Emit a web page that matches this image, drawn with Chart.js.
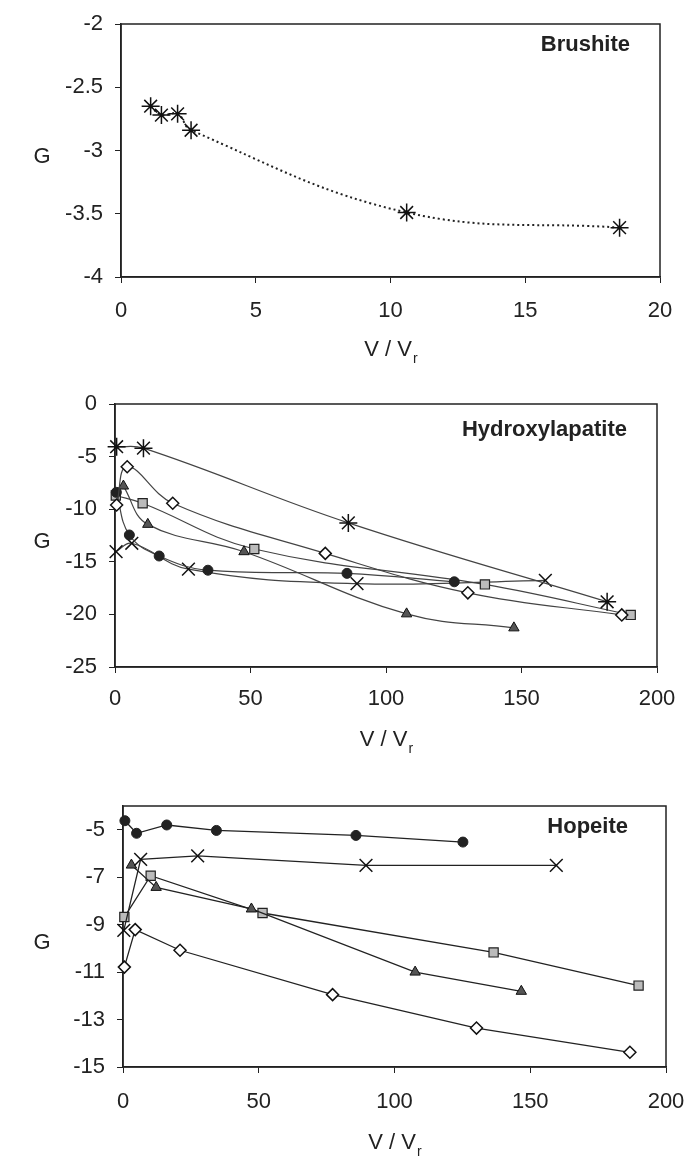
<!DOCTYPE html>
<html>
<head>
<meta charset="utf-8">
<script src="https://cdn.jsdelivr.net/npm/chart.js@4"></script>
<style>
  body { margin: 0; background: #fff; width: 687px; height: 1156px; position: relative; overflow: hidden; }
  canvas { position: absolute; left: 0; }
</style>
</head>
<body>
<canvas id="brushite" width="687" height="380" style="top:0"></canvas>
<canvas id="hap" width="687" height="380" style="top:380px"></canvas>
<canvas id="hopeite" width="687" height="396" style="top:760px"></canvas>

<script>
// ---- Brushite ----
const brushiteX = [1.1, 1.5, 2.1, 2.6, 10.6, 18.5];
const brushiteY = [-2.65, -2.72, -2.71, -2.84, -3.49, -3.61];
const brushiteXTicks = [0, 5, 10, 15, 20];
const brushiteYTicks = [-4, -3.5, -3, -2.5, -2];

// ---- Hydroxylapatite ----
const hapStarX = [0.6, 10.5, 86.1, 181.6];
const hapStarY = [-4.06, -4.2, -11.3, -18.8];
const hapDiamondX = [0.6, 4.5, 21.3, 77.6, 130.2, 187];
const hapDiamondY = [-9.6, -5.96, -9.44, -14.2, -17.95, -20.05];
const hapCircleX = [0.5, 5.3, 16.3, 34.3, 85.6, 125.2];
const hapCircleY = [-8.4, -12.45, -14.45, -15.8, -16.1, -16.9];
const hapTriangleX = [3.1, 12.1, 47.6, 107.6, 147.2];
const hapTriangleY = [-7.8, -11.44, -14.04, -19.95, -21.28];
const hapSquareX = [0.3, 10.2, 51.4, 136.5, 190.3];
const hapSquareY = [-8.7, -9.44, -13.78, -17.15, -20.05];
const hapCrossX = [0.4, 6.2, 27.1, 89.3, 158.8];
const hapCrossY = [-14.04, -13.24, -15.7, -17.08, -16.76];
const hapXTicks = [0, 50, 100, 150, 200];
const hapYTicks = [-25, -20, -15, -10, -5, 0];

// ---- Hopeite ----
const hopCircleX = [0.7, 5.0, 16.1, 34.4, 85.8, 125.2];
const hopCircleY = [-4.62, -5.15, -4.8, -5.03, -5.24, -5.52];
const hopCrossX = [0.3, 6.5, 27.5, 89.5, 159.6];
const hopCrossY = [-9.24, -6.25, -6.1, -6.5, -6.5];
const hopTriangleX = [3.1, 12.2, 47.3, 107.6, 146.7];
const hopTriangleY = [-6.49, -7.43, -8.34, -11.0, -11.81];
const hopSquareX = [0.5, 10.2, 51.4, 136.5, 189.9];
const hopSquareY = [-8.68, -6.94, -8.51, -10.17, -11.57];
const hopDiamondX = [0.5, 4.5, 21.0, 77.2, 130.2, 186.7];
const hopDiamondY = [-10.79, -9.21, -10.08, -11.95, -13.36, -14.38];
const hopXTicks = [0, 50, 100, 150, 200];
const hopYTicks = [-15, -13, -11, -9, -7, -5];

const FONT = '"Liberation Sans", Arial, sans-serif';

function pts(xs, ys) {
  return xs.map((x, i) => ({ x: x, y: ys[i] }));
}

// marker looks
const markers = {
  star:     { pointStyle: 'star',     radius: 9,   bg: '#111', border: '#111', bw: 1.5 },
  diamond:  { pointStyle: 'rectRot',  radius: 6,   bg: '#fff', border: '#111', bw: 1.5 },
  circle:   { pointStyle: 'circle',   radius: 5,   bg: '#222', border: '#222', bw: 1 },
  triangle: { pointStyle: 'triangle', radius: 6,   bg: '#555', border: '#111', bw: 1 },
  square:   { pointStyle: 'rect',     radius: 6.5, bg: '#bbb', border: '#222', bw: 1.2 },
  cross:    { pointStyle: 'crossRot', radius: 9,   bg: '#111', border: '#111', bw: 1.5 }
};

function series(xs, ys, kind, line) {
  const m = markers[kind];
  return Object.assign({
    data: pts(xs, ys),
    showLine: true,
    fill: false,
    clip: false,
    pointStyle: m.pointStyle,
    pointRadius: m.radius,
    pointHoverRadius: m.radius,
    pointBackgroundColor: m.bg,
    pointBorderColor: m.border,
    pointBorderWidth: m.bw
  }, line);
}

// box around plot, panel name, upright y label and x title with subscript
const panelDeco = {
  id: 'panelDeco',
  beforeDatasetsDraw(chart, args, o) {
    const { ctx, chartArea: a } = chart;
    ctx.save();
    ctx.strokeStyle = '#222';
    ctx.lineWidth = 1.5;
    ctx.strokeRect(a.left, a.top, a.right - a.left, a.bottom - a.top);
    ctx.restore();
  },
  afterDraw(chart, args, o) {
    const { ctx, chartArea: a } = chart;
    ctx.save();
    ctx.fillStyle = '#222';
    ctx.textBaseline = 'middle';
    ctx.font = 'bold 22px ' + FONT;
    ctx.textAlign = 'right';
    ctx.fillText(o.name, a.right - o.nameRight, a.top + o.nameTop);

    ctx.font = '22px ' + FONT;
    ctx.textAlign = 'center';
    ctx.fillText('G', o.yLabelX, (a.top + a.bottom) / 2 + 6);

    // V / Vr
    const main = 'V / V';
    ctx.font = '22px ' + FONT;
    const w1 = ctx.measureText(main).width;
    ctx.font = '14px ' + FONT;
    const w2 = ctx.measureText('r').width;
    const cx = (a.left + a.right) / 2;
    const x0 = cx - (w1 + w2) / 2;
    ctx.textAlign = 'left';
    ctx.font = '22px ' + FONT;
    ctx.fillText(main, x0, o.titleY);
    ctx.font = '14px ' + FONT;
    ctx.fillText('r', x0 + w1 + 1, o.titleY + 9);
    ctx.restore();
  }
};

function makePanel(id, cfg) {
  const H = cfg.height;
  return new Chart(document.getElementById(id), {
    type: 'scatter',
    data: { datasets: cfg.datasets },
    options: {
      responsive: false,
      animation: false,
      events: [],
      layout: { padding: { top: cfg.top, right: 687 - cfg.right, bottom: 0, left: 0 } },
      plugins: {
        legend: { display: false },
        tooltip: { enabled: false },
        panelDeco: { name: cfg.name, nameRight: cfg.nameRight, nameTop: cfg.nameTop, yLabelX: 42, titleY: cfg.titleY }
      },
      scales: {
        x: {
          type: 'linear',
          min: cfg.xTicks[0],
          max: cfg.xTicks[cfg.xTicks.length - 1],
          afterBuildTicks: s => { s.ticks = cfg.xTicks.map(v => ({ value: v })); },
          afterFit: s => { s.height = H - cfg.bottom; s.paddingLeft = 0; s.paddingRight = 0; },
          border: { display: true, color: '#222', width: 1.5 },
          grid: { drawOnChartArea: false, drawTicks: true, tickLength: 6, color: '#222' },
          ticks: { color: '#222', font: { family: FONT, size: 22 }, padding: cfg.xPad, maxRotation: 0, callback: v => String(v) }
        },
        y: {
          type: 'linear',
          min: cfg.yTicks[0],
          max: cfg.yMax,
          afterBuildTicks: s => { s.ticks = cfg.yTicks.map(v => ({ value: v })); },
          afterFit: s => { s.width = cfg.left; s.paddingTop = 0; s.paddingBottom = 0; },
          border: { display: true, color: '#222', width: 1.5 },
          grid: { drawOnChartArea: false, drawTicks: true, tickLength: 6, color: '#222' },
          ticks: { color: '#222', font: { family: FONT, size: 22 }, padding: 12, callback: v => String(v) }
        }
      }
    },
    plugins: [panelDeco]
  });
}

// smoothed dotted line for brushite
makePanel('brushite', {
  height: 380, left: 121, right: 660, top: 24, bottom: 277,
  xTicks: brushiteXTicks, yTicks: brushiteYTicks, yMax: -2, xPad: 15,
  name: 'Brushite', nameRight: 30, nameTop: 21, titleY: 350,
  datasets: [
    series(brushiteX, brushiteY, 'star', { borderColor: '#222', borderWidth: 2, borderDash: [2, 3], tension: 0.4 })
  ]
});

const hapLine = { borderColor: '#444', borderWidth: 1.2, tension: 0.4 };
makePanel('hap', {
  height: 380, left: 115, right: 657, top: 24, bottom: 287,
  xTicks: hapXTicks, yTicks: hapYTicks, yMax: 0, xPad: 13,
  name: 'Hydroxylapatite', nameRight: 30, nameTop: 26, titleY: 360,
  datasets: [
    series(hapStarX, hapStarY, 'star', hapLine),
    series(hapDiamondX, hapDiamondY, 'diamond', hapLine),
    series(hapCircleX, hapCircleY, 'circle', hapLine),
    series(hapTriangleX, hapTriangleY, 'triangle', hapLine),
    series(hapSquareX, hapSquareY, 'square', hapLine),
    series(hapCrossX, hapCrossY, 'cross', hapLine)
  ]
});

const hopLine = { borderColor: '#222', borderWidth: 1.3, tension: 0 };
makePanel('hopeite', {
  height: 396, left: 123, right: 666, top: 46, bottom: 307,
  xTicks: hopXTicks, yTicks: hopYTicks, yMax: -4, xPad: 16,
  name: 'Hopeite', nameRight: 38, nameTop: 21, titleY: 383,
  datasets: [
    series(hopCircleX, hopCircleY, 'circle', hopLine),
    series(hopCrossX, hopCrossY, 'cross', hopLine),
    series(hopTriangleX, hopTriangleY, 'triangle', hopLine),
    series(hopSquareX, hopSquareY, 'square', hopLine),
    series(hopDiamondX, hopDiamondY, 'diamond', hopLine)
  ]
});
</script>
</body>
</html>
